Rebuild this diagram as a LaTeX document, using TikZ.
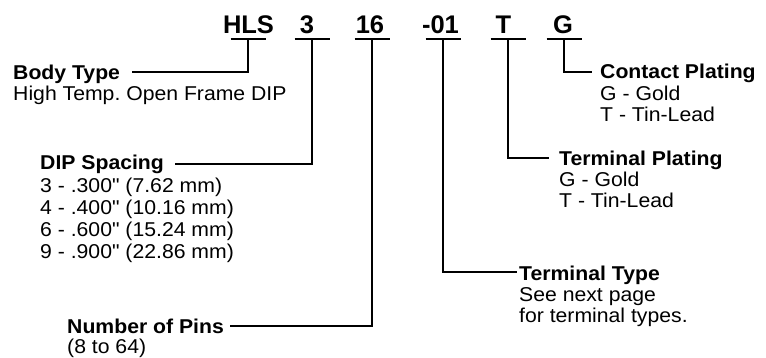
\documentclass[tikz,border=0pt]{standalone}
\usepackage{fontspec}
\setmainfont{Liberation Sans}
\newfontfamily\labfont[FakeStretch=1.06]{Liberation Sans}
\frenchspacing
\begin{document}
\begin{tikzpicture}[x=1pt,y=-1pt,
  code/.style={font=\fontsize{25.5}{25.5}\selectfont\bfseries, inner sep=0pt, anchor=base},
  ttl/.style={font=\labfont\fontsize{20}{20}\selectfont\bfseries, inner sep=0pt, anchor=base west},
  txt/.style={font=\labfont\fontsize{20}{20}\selectfont, inner sep=0pt, anchor=base west},
  ln/.style={line width=1.4pt, line cap=butt, line join=miter}]
\useasboundingbox (0,0) rectangle (766,357);

% code letters
\node[code] (cHLS) at (248.5,33) {HLS};
\node[code] (c3)   at (307,33)   {3};
\node[code] (c16)  at (370,33)   {16};
\node[code] (c01)  at (440.5,33) {-01};
\node[code] (cT)   at (503.5,33) {T};
\node[code] (cG)   at (563,33)   {G};

% underline bars
\foreach \n/\x in {HLS/248,3/312,16/372,01/443,T/508,G/564}{
  \coordinate (l\n) at (\x-17.5,39);
  \coordinate (r\n) at (\x+17.5,39);
  \coordinate (b\n) at (\x,39);
  \draw[ln] (l\n) -- (r\n);
}

% labels
\node[ttl] (tBody) at (13,79) {Body Type};
\node[txt] (tBody1) at (13,100) {High Temp. Open Frame DIP};

\node[ttl] (tDIP) at (40,169.5) {DIP Spacing};
\node[txt] (tDIP1) at (40,192) {3 - .300" (7.62 mm)};
\node[txt] (tDIP2) at (40,214) {4 - .400" (10.16 mm)};
\node[txt] (tDIP3) at (40,236) {6 - .600" (15.24 mm)};
\node[txt] (tDIP4) at (40,258) {9 - .900" (22.86 mm)};

\node[ttl] (tPins) at (67,333) {Number of Pins};
\node[txt] (tPins1) at (67,353.5) {(8 to 64)};

\node[ttl] (tTT) at (519,280) {Terminal Type};
\node[txt] (tTT1) at (519,301) {See next page};
\node[txt] (tTT2) at (519,322) {for terminal types.};

\node[ttl] (tTP) at (559,165) {Terminal Plating};
\node[txt] (tTP1) at (559,186) {G - Gold};
\node[txt] (tTP2) at (559,207) {T - Tin-Lead};

\node[ttl] (tCP) at (600,78) {Contact Plating};
\node[txt] (tCP1) at (600,100) {G - Gold};
\node[txt] (tCP2) at (600,121.5) {T - Tin-Lead};

% connector end points
\coordinate (eBody) at (132,72);
\coordinate (eDIP)  at (175,164);
\coordinate (ePins) at (230,326);
\coordinate (eTT)   at (517,272);
\coordinate (eTP)   at (549,158);
\coordinate (eCP)   at (592,72);

% connectors
\draw[ln] (bHLS) |- (eBody);
\draw[ln] (b3)   |- (eDIP);
\draw[ln] (b16)  |- (ePins);
\draw[ln] (b01)  |- (eTT);
\draw[ln] (bT)   |- (eTP);
\draw[ln] (bG)   |- (eCP);
\end{tikzpicture}
\end{document}
